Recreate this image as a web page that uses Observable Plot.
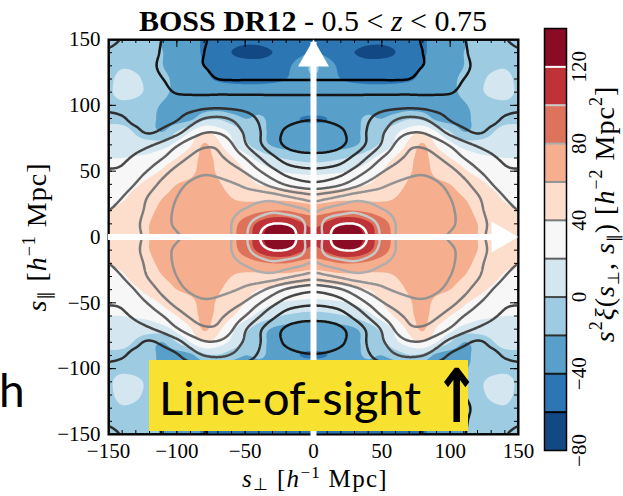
<!DOCTYPE html>
<html>
<head>
<meta charset="utf-8">
<script src="https://cdn.jsdelivr.net/npm/d3@7"></script>
<script src="https://cdn.jsdelivr.net/npm/@observablehq/plot@0.6"></script>
<style>
  body { margin: 0; background: #fff; }
  #fig { position: relative; width: 623px; height: 496px; overflow: hidden; }
  #fig svg { position: absolute; left: 0; top: 0; }
</style>
</head>
<body>
<div id="fig"></div>
<script>
// Quadrant grid (s_perp >= 0, s_par >= 0), mirrored to the full plane.
const sPerp = [0, 10, 20, 30, 40, 50, 60, 70, 80, 90, 100, 110, 120, 130, 140, 150];
const sPar = [150, 140, 130, 120, 110, 100, 90, 80, 70, 60, 50, 40, 30, 20, 10, 0];

// Measured s^2 xi (filled bands); rows follow sPar, columns follow sPerp.
const xiMeasured = [
  [-40, -45, -50, -52, -55, -55, -52, -48, -42, -35, -30, -22, -15, -12, -10, -10],
  [-38, -45, -55, -60, -65, -66, -60, -50, -42, -35, -28, -20, -14, -10, -8, -8],
  [-18, -30, -45, -50, -52, -50, -48, -45, -40, -33, -27, -20, -10, -4, -2, -8],
  [-22, -32, -40, -44, -45, -45, -44, -42, -36, -30, -24, -16, -6, 3, 6, -4],
  [-28, -28, -30, -30, -32, -32, -32, -30, -30, -28, -24, -16, -5, 4, 5, -2],
  [-28, -28, -27, -26, -26, -28, -30, -30, -30, -30, -28, -22, -14, -6, -3, -4],
  [-42, -40, -33, -24, -18, -20, -12, -2, -6, -25, -30, -25, -15, -8, -4, -3],
  [-32, -32, -30, -24, -14, -4, 15, 30, 40, 20, 0, -20, -12, -2, 5, 5],
  [-30, -30, -28, -22, -10, 5, 25, 45, 62, 38, 26, 12, 8, 8, 10, 12],
  [-8, -6, -2, 4, 14, 28, 42, 55, 65, 50, 40, 33, 25, 22, 20, 20],
  [15, 16, 18, 22, 30, 40, 50, 58, 66, 55, 48, 42, 35, 30, 28, 26],
  [30, 32, 34, 36, 40, 46, 54, 62, 68, 64, 60, 52, 45, 38, 34, 32],
  [50, 52, 54, 54, 54, 56, 60, 66, 70, 68, 65, 60, 52, 45, 38, 35],
  [70, 74, 80, 80, 76, 70, 66, 68, 70, 70, 68, 64, 57, 50, 44, 40],
  [95, 104, 118, 118, 104, 88, 74, 70, 70, 70, 68, 65, 60, 54, 48, 44],
  [105, 112, 135, 135, 110, 90, 76, 72, 70, 70, 68, 65, 60, 54, 48, 44]
];

// Best-fit model s^2 xi (contour lines); same layout.
const xiModel = [
  [-70, -71, -72, -72, -71, -69, -66, -63, -59, -53, -47, -41, -34, -28, -21, -17],
  [-69, -70, -71, -71, -70, -68, -66, -63, -60, -54, -48, -42, -35, -30, -26, -22],
  [-66, -67, -67, -67, -66, -65, -64, -62, -60, -55, -49, -43, -37, -33, -30, -27],
  [-61, -61, -61, -61, -61, -61, -61, -60, -55, -50, -45, -40, -35, -31, -29, -27],
  [-43, -43, -43, -43, -43, -43, -43, -43, -43, -42, -41, -36, -31, -28, -27, -26],
  [-33, -33, -33, -32, -30, -28, -27, -26, -27, -30, -30, -28, -27, -25, -24, -23],
  [-39, -38, -35, -30, -22, -12, -2, 3, 0, -10, -22, -26, -25, -23, -19, -17],
  [-47, -46, -42, -33, -18, -3, 10, 18, 18, 8, -6, -16, -22, -17, -15, -12],
  [-47, -46, -42, -32, -16, 2, 22, 36, 37, 30, 18, 6, -2, -6, -9, -8],
  [-34, -33, -28, -15, 2, 20, 34, 44, 47, 42, 32, 20, 10, 3, -3, -4],
  [-16, -14, -8, 6, 22, 38, 48, 55, 57, 53, 45, 34, 22, 12, 3, 1],
  [5, 9, 18, 32, 46, 56, 62, 65, 66, 62, 55, 45, 33, 21, 12, 8],
  [50, 56, 64, 72, 73, 70, 70, 71, 70, 66, 60, 52, 42, 30, 20, 15],
  [78, 86, 92, 96, 90, 82, 76, 73, 71, 67, 62, 55, 45, 34, 25, 20],
  [88, 108, 119, 120, 110, 94, 80, 74, 71, 67, 62, 56, 47, 37, 28, 23],
  [85, 112, 142, 142, 118, 97, 80, 72, 66, 62, 59, 54, 46, 36, 29, 24]
];

// Filled band edges and their colours (RdBu reversed).
const bandEdges = [-80, -60, -40, -20, 0, 20, 40, 60, 80, 100, 120, 140];
const bandColors = ["#124883", "#2d76b4", "#58a0ca", "#9dcbe1", "#d4e7f1", "#f7f7f7",
                    "#fdddcb", "#f6af8e", "#de735b", "#bf3237", "#890b24"];
// Model contour levels and their grey shades.
const lineLevels = [-60, -40, -20, 0, 20, 40, 60, 80, 100, 120];
const lineGrays = ["#000000", "#161616", "#2e2e2e", "#474747", "#606060",
                   "#7a7a7a", "#939393", "#adadad", "#c8c8c8", "#ffffff"];

const axisTicks = [-150, -100, -50, 0, 50, 100, 150];
const minorTicks = d3.range(-150, 151, 10);
const barTicks = [-80, -40, 0, 40, 80, 120];

const step = sPerp[1] - sPerp[0];
const smax = sPerp[sPerp.length - 1];

// Mirror a quadrant table onto the full (s_perp, s_par) plane.
function mirror(q) {
  const axis = [...sPerp].reverse().map(v => -v).concat(sPerp.slice(1));
  const out = [];
  for (const y of axis) {
    const r = sPar.indexOf(Math.abs(y));
    for (const x of axis) out.push(q[r][sPerp.indexOf(Math.abs(x))]);
  }
  return out;
}

// Smooth (Catmull-Rom) reading of a gridded table, for contouring.
function surface(q) {
  const vals = mirror(q);
  const n = 2 * sPerp.length - 1;
  const at = (i, j) => vals[Math.max(0, Math.min(n - 1, j)) * n + Math.max(0, Math.min(n - 1, i))];
  const cr = (p0, p1, p2, p3, t) =>
    p1 + 0.5 * t * (p2 - p0 + t * (2 * p0 - 5 * p1 + 4 * p2 - p3 + t * (3 * (p1 - p2) + p3 - p0)));
  return (x, y) => {
    const fx = (x + smax) / step, fy = (y + smax) / step;
    const i = Math.floor(fx), j = Math.floor(fy), tx = fx - i, ty = fy - j;
    const row = jj => cr(at(i - 1, jj), at(i, jj), at(i + 1, jj), at(i + 2, jj), tx);
    return cr(row(j - 1), row(j), row(j + 1), row(j + 2), ty);
  };
}

const measured = surface(xiMeasured);
const model = surface(xiModel);
const field = {x1: -smax, x2: smax, y1: -smax, y2: smax, pixelSize: 1};

const W = 623, H = 496;
const mL = 108, mR = 105, mT = 39, mB = 62;
const plotW = W - mL - mR, plotH = H - mT - mB;
const serif = "Liberation Serif";

const ticks = (vals, len) => [
  Plot.ruleX(vals, {x: d => d, insetTop: plotH - len, stroke: "black", strokeWidth: 1}),
  Plot.ruleX(vals, {x: d => d, insetBottom: plotH - len, stroke: "black", strokeWidth: 1}),
  Plot.ruleY(vals, {y: d => d, insetRight: plotW - len, stroke: "black", strokeWidth: 1}),
  Plot.ruleY(vals, {y: d => d, insetLeft: plotW - len, stroke: "black", strokeWidth: 1})
];

const main = Plot.plot({
  width: W, height: H,
  marginLeft: mL, marginRight: mR, marginTop: mT, marginBottom: mB,
  style: {background: "transparent", fontFamily: serif},
  x: {domain: [-smax, smax], axis: null},
  y: {domain: [-smax, smax], axis: null},
  color: {type: "threshold", domain: bandEdges.slice(1, -1), range: bandColors},
  marks: [
    Plot.contour({...field, fill: measured, thresholds: bandEdges.slice(0, -1), clip: true}),
    ...lineLevels.map((L, i) => Plot.contour({
      ...field, value: model, thresholds: [L],
      fill: "none", stroke: lineGrays[i], strokeWidth: 2.5, clip: true
    })),
    ...ticks(minorTicks, 4),
    ...ticks(axisTicks, 8),
    Plot.frame({stroke: "black", strokeWidth: 2}),
    // line-of-sight and transverse direction arrows
    Plot.ruleX([0], {x: d => d, y1: -smax, y2: smax, stroke: "white", strokeWidth: 6, insetTop: 20, insetBottom: -3}),
    Plot.dot([{x: 0, y: smax}], {x: "x", y: "y", symbol: "triangle", r: 11.5, fill: "white", stroke: "none", dy: 18}),
    Plot.ruleY([0], {y: d => d, x1: -smax, x2: smax, stroke: "white", strokeWidth: 6, insetRight: 20}),
    Plot.dot([{x: smax, y: 0}], {x: "x", y: "y", symbol: "triangle", r: 11.5, rotate: 90, fill: "white", stroke: "none", dx: -18}),
    Plot.axisX({anchor: "bottom", ticks: axisTicks, tickSize: 0, tickPadding: 9, fontSize: 21, fontFamily: serif, label: null}),
    Plot.axisY({anchor: "left", ticks: axisTicks, tickSize: 0, tickPadding: 8, fontSize: 21, fontFamily: serif, label: null})
  ]
});

// Colour bar
const bands = bandColors.map((c, i) => ({lo: bandEdges[i], hi: bandEdges[i + 1], color: c}));
const bar = Plot.plot({
  width: W, height: H,
  marginLeft: 544, marginRight: W - 566, marginTop: 28, marginBottom: H - 450,
  style: {background: "transparent", fontFamily: serif, overflow: "visible"},
  x: {domain: [0, 1], axis: null},
  y: {domain: [bandEdges[0], bandEdges[bandEdges.length - 1]], axis: null},
  color: {type: "identity"},
  marks: [
    Plot.rect(bands, {x1: 0, x2: 1, y1: "lo", y2: "hi", fill: "color"}),
    Plot.ruleY(lineLevels, {y: d => d, x1: 0, x2: 1, stroke: (d, i) => lineGrays[i], strokeWidth: 2}),
    Plot.frame({stroke: "black", strokeWidth: 1.5}),
    Plot.text(barTicks, {x: 1, y: d => d, dx: 13, rotate: -90, fontSize: 21, fontFamily: serif,
      text: d => (d < 0 ? "\u2212" + Math.abs(d) : String(d)), textAnchor: "middle"})
  ]
});

const fig = document.getElementById("fig");
fig.appendChild(main);
fig.appendChild(bar);

// Titles, axis labels and the line-of-sight banner
const notes = d3.create("svg").attr("width", W).attr("height", H)
  .style("position", "absolute").style("left", 0).style("top", 0);
notes.html(`
  <text x="313" y="31" text-anchor="middle" font-family="${serif}" font-size="30"><tspan font-weight="bold">BOSS DR12</tspan> - 0.5 &lt; <tspan font-style="italic">z</tspan> &lt; 0.75</text>
  <text x="315" y="487" text-anchor="middle" font-family="${serif}" font-size="25" letter-spacing="1.3"><tspan font-style="italic">s</tspan><tspan font-size="17" dy="3">⊥</tspan><tspan dy="-3"> [</tspan><tspan font-style="italic">h</tspan><tspan font-size="17" dy="-9">−1</tspan><tspan dy="9"> Mpc]</tspan></text>
  <text transform="translate(46,237) rotate(-90)" text-anchor="middle" font-family="${serif}" font-size="28" letter-spacing="1"><tspan font-style="italic">s</tspan><tspan font-size="18" dy="5">∥</tspan><tspan dy="-5"> [</tspan><tspan font-style="italic">h</tspan><tspan font-size="18" dy="-11">−1</tspan><tspan dy="11"> Mpc]</tspan></text>
  <text transform="translate(614,214) rotate(-90)" text-anchor="middle" font-family="${serif}" font-size="28" letter-spacing="1"><tspan font-style="italic">s</tspan><tspan font-size="18" dy="-12">2</tspan><tspan dy="12" font-style="italic">ξ</tspan>(<tspan font-style="italic">s</tspan><tspan font-size="16" dy="5">⊥</tspan><tspan dy="-5">, </tspan><tspan font-style="italic">s</tspan><tspan font-size="16" dy="5">∥</tspan><tspan dy="-5">) [</tspan><tspan font-style="italic">h</tspan><tspan font-size="18" dy="-12">−2</tspan><tspan dy="12"> Mpc</tspan><tspan font-size="18" dy="-12">2</tspan><tspan dy="12">]</tspan></text>
  <text x="-1" y="407" font-family="Lato" font-size="46" fill="#000">h</text>
  <rect x="149" y="360" width="319" height="71" fill="#f9e12f"></rect>
  <text x="159" y="415" font-family="Lato" font-size="47" fill="#000">Line-of-sight</text>
  <text transform="translate(433,422) scale(1.1,1.45)" font-family="DejaVu Sans" font-weight="bold" font-size="51" fill="#000">↑</text>
`);
fig.appendChild(notes.node());
</script>
</body>
</html>
